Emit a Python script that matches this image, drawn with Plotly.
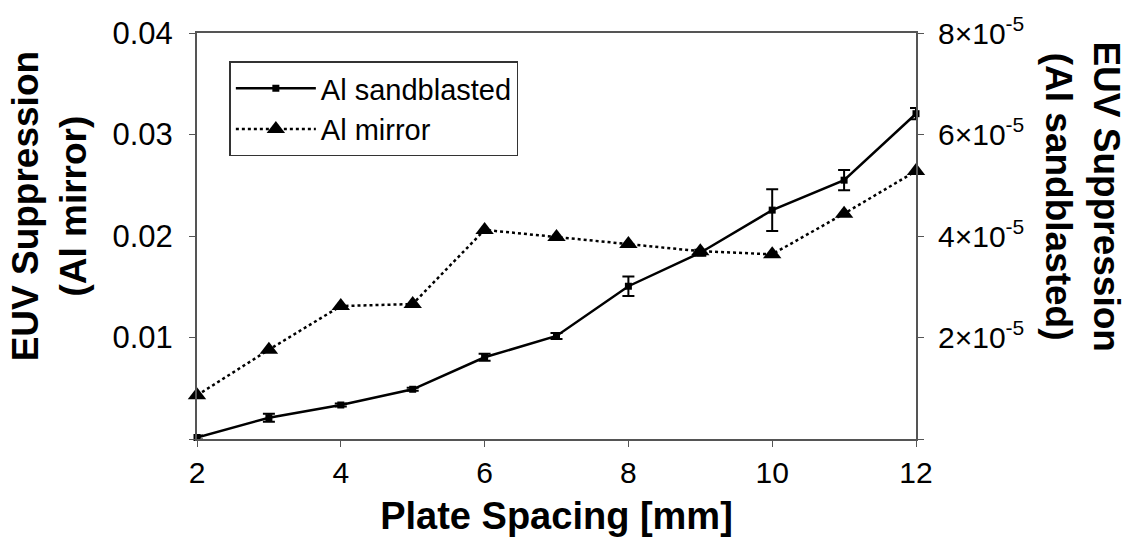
import plotly.graph_objects as go

spacing = [2, 3, 4, 5, 6, 7, 8, 9, 10, 11, 12]
mirror = [0.0043, 0.0088, 0.0131, 0.0133, 0.0206, 0.0199, 0.0192, 0.0185, 0.0182, 0.0222, 0.0264]
sandblasted = [0.03e-5, 0.42e-5, 0.67e-5, 0.98e-5, 1.61e-5, 2.03e-5, 3.01e-5, 3.67e-5, 4.51e-5, 5.10e-5, 6.41e-5]
sand_err = [0.04e-5, 0.08e-5, 0.03e-5, 0.03e-5, 0.07e-5, 0.06e-5, 0.19e-5, 0.06e-5, 0.41e-5, 0.20e-5, 0.11e-5]

left_ticks = [0, 0.01, 0.02, 0.03, 0.04]
left_text = ["", "0.01", "0.02", "0.03", "0.04"]
right_ticks = [0, 2e-5, 4e-5, 6e-5, 8e-5]
right_text = ["", "2×10<sup>-5</sup>", "4×10<sup>-5</sup>", "6×10<sup>-5</sup>", "8×10<sup>-5</sup>"]
x_ticks = [2, 4, 6, 8, 10, 12]

FONT = "Liberation Sans, Arial, sans-serif"
AX = "#555555"

fig = go.Figure()
fig.add_trace(go.Scatter(
    x=spacing, y=sandblasted, name="Al sandblasted", yaxis="y2",
    mode="lines+markers",
    line=dict(color="black", width=2.5),
    marker=dict(symbol="square", size=7, color="black"),
    error_y=dict(type="data", array=sand_err, visible=True, color="black", thickness=2, width=6),
    cliponaxis=False,
))
fig.add_trace(go.Scatter(
    x=spacing, y=mirror, name="Al mirror", yaxis="y",
    mode="lines+markers",
    line=dict(color="black", width=2.5, dash="dot"),
    marker=dict(symbol="triangle-up", size=16, color="black"),
    cliponaxis=False,
))

fig.update_layout(
    width=1129, height=542,
    margin=dict(l=197, r=213, t=24, b=100),
    paper_bgcolor="white", plot_bgcolor="white",
    font=dict(family=FONT, color="black", size=30),
    showlegend=True,
    legend=dict(
        x=0.045, y=0.93, xanchor="left", yanchor="top",
        bgcolor="white", bordercolor="#333333", borderwidth=1.5,
        font=dict(size=29, family=FONT, color="black"),
        itemwidth=80, tracegroupgap=0,
    ),
    xaxis=dict(
        range=[2, 12], tickvals=x_ticks, ticks="outside", ticklen=6, tickcolor=AX,
        showline=True, linecolor=AX, linewidth=2, mirror=True,
        showgrid=False, zeroline=False,
        tickfont=dict(size=30, family=FONT, color="black"),
        title=dict(text="<b>Plate Spacing [mm]</b>", font=dict(size=38, family=FONT, color="black"), standoff=14),
    ),
    yaxis=dict(
        range=[0, 0.04], tickvals=left_ticks, ticktext=left_text,
        ticks="outside", ticklen=6, tickcolor=AX,
        showline=True, linecolor=AX, linewidth=2,
        showgrid=False, zeroline=False,
        tickfont=dict(size=31, family=FONT, color="black"),
        ticklabelstandoff=10,
    ),
    yaxis2=dict(
        range=[0, 8e-5], tickvals=right_ticks, ticktext=right_text,
        overlaying="y", side="right",
        ticks="outside", ticklen=6, tickcolor=AX,
        showline=True, linecolor=AX, linewidth=2,
        showgrid=False, zeroline=False,
        tickfont=dict(size=30, family=FONT, color="black"),
        ticklabelstandoff=8,
    ),
    annotations=[
        dict(text="<b>EUV Suppression<br>(Al mirror)</b>", textangle=-90,
             xref="paper", yref="paper", x=-0.205, y=0.572, xanchor="center", yanchor="middle",
             showarrow=False, font=dict(size=37, family=FONT, color="black")),
        dict(text="<b>EUV Suppression<br>(Al sandblasted)</b>", textangle=90,
             xref="paper", yref="paper", x=1.232, y=0.598, xanchor="center", yanchor="middle",
             showarrow=False, font=dict(size=37, family=FONT, color="black")),
    ],
)

fig.write_html("out.html")
